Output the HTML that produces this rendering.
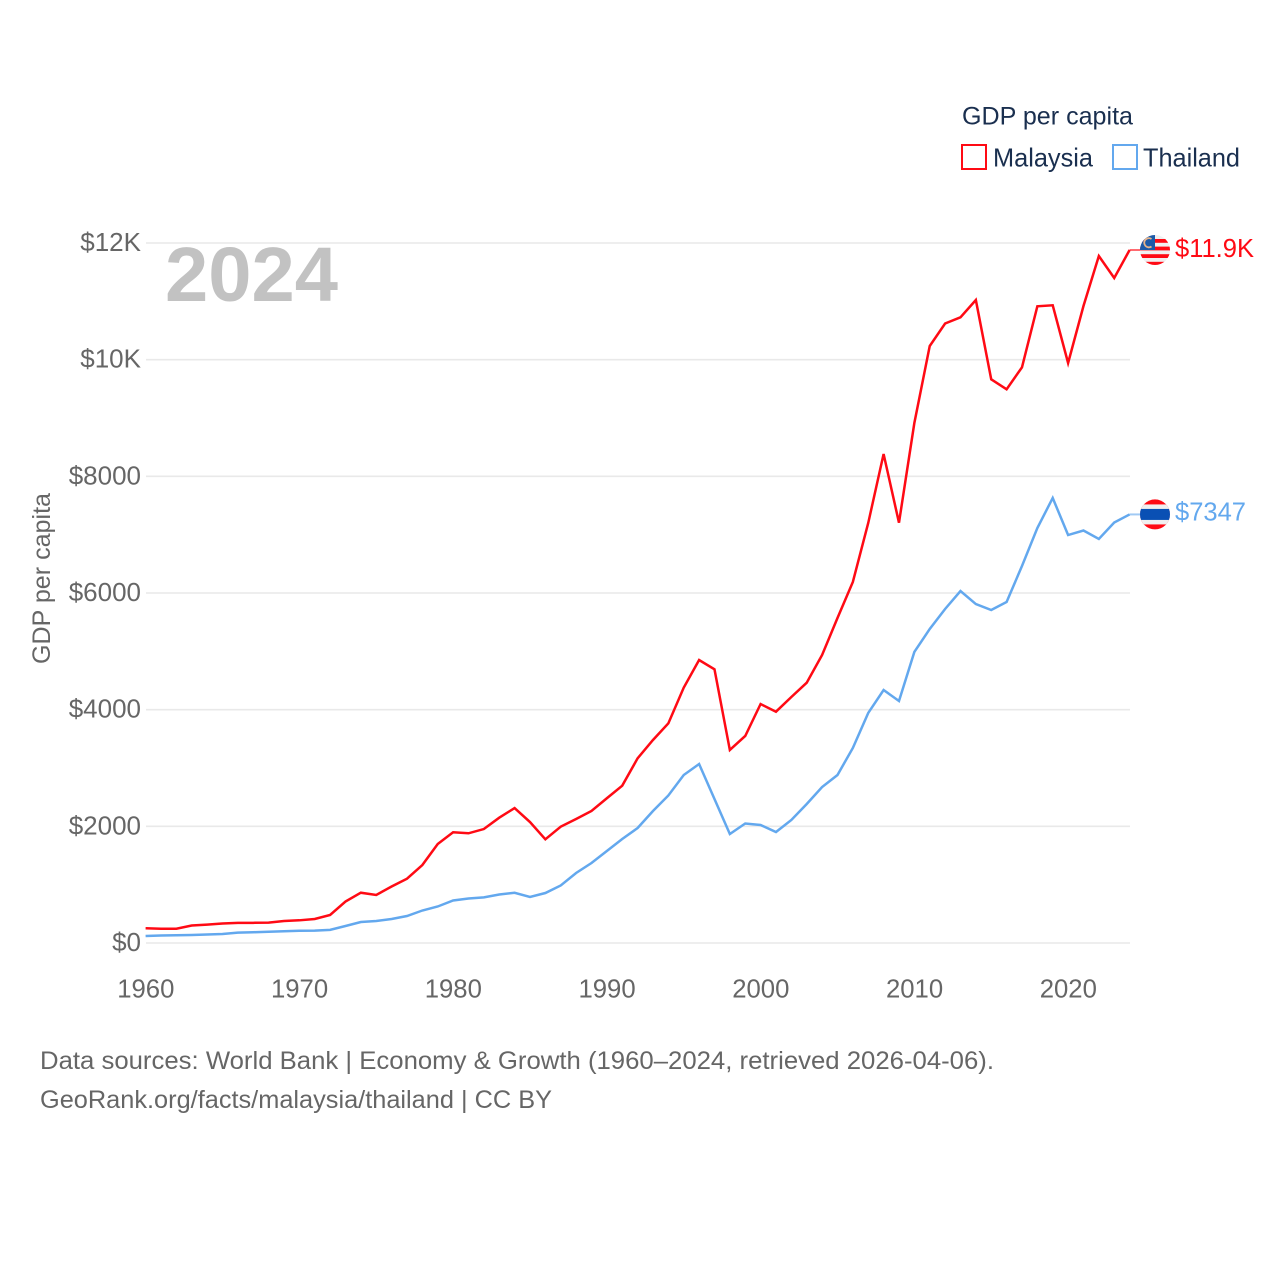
<!DOCTYPE html>
<html lang="en">
<head>
<meta charset="utf-8">
<title>GDP per capita: Malaysia and Thailand</title>
<style>
html,body{margin:0;padding:0;background:#fff;}
svg{display:block;}
text{font-family:"Liberation Sans",sans-serif;}
</style>
</head>
<body>
<svg id="chart" xmlns="http://www.w3.org/2000/svg" width="1280" height="1280" viewBox="0 0 1280 1280">
  <defs>
    <clipPath id="flag-clip-my"><circle id="clip-circle-my" r="15"/></clipPath>
    <clipPath id="flag-clip-th"><circle id="clip-circle-th" r="15"/></clipPath>
  </defs>
  <rect width="1280" height="1280" fill="#fff"/>
  <g id="grid"></g>
  <g id="y-ticks"></g>
  <g id="x-ticks"></g>
  <text x="165" y="301" font-size="77" font-weight="700" fill="#c2c2c2" textLength="173" lengthAdjust="spacingAndGlyphs">2024</text>
  <text transform="translate(50,578.5) rotate(-90)" text-anchor="middle" font-size="25" fill="#666" textLength="171" lengthAdjust="spacingAndGlyphs">GDP per capita</text>
  <g id="series"></g>
  <g id="ends"></g>

  <g>
    <text x="962" y="124.5" font-size="25" fill="#1a2f4f" textLength="171" lengthAdjust="spacingAndGlyphs">GDP per capita</text>
    <g>
      <rect x="962" y="145" width="24" height="24" fill="none" stroke="#ff0a14" stroke-width="2"/>
      <text x="993" y="166.5" font-size="26" fill="#1a2f4f" textLength="100" lengthAdjust="spacingAndGlyphs">Malaysia</text>
    </g>
    <g>
      <rect x="1113" y="145" width="24" height="24" fill="none" stroke="#63a8ee" stroke-width="2"/>
      <text x="1143" y="166.5" font-size="26" fill="#1a2f4f" textLength="97" lengthAdjust="spacingAndGlyphs">Thailand</text>
    </g>
  </g>

  <text x="40" y="1069" font-size="25" fill="#666" textLength="954" lengthAdjust="spacingAndGlyphs">Data sources: World Bank | Economy &amp; Growth (1960–2024, retrieved 2026-04-06).</text>
  <text x="40" y="1108" font-size="25" fill="#666" textLength="512" lengthAdjust="spacingAndGlyphs">GeoRank.org/facts/malaysia/thailand | CC BY</text>
</svg>
<script>
const firstYear = 1960;
const malaysia = [252,245,245,300,314,334,346,346,350,377,389,411,480,711,862,823,969,1102,1337,1697,1898,1881,1954,2148,2314,2074,1778,1994,2126,2263,2481,2697,3166,3480,3766,4377,4851,4692,3309,3549,4097,3965,4217,4462,4937,5571,6189,7200,8383,7205,8914,10234,10620,10726,11023,9663,9492,9869,10915,10932,9943,10920,11777,11400,11880];
const thailand = [120,129,132,137,146,154,177,185,192,202,209,213,226,291,360,377,411,463,557,626,729,763,783,831,861,789,857,986,1200,1371,1577,1783,1971,2263,2529,2880,3069,2469,1869,2049,2023,1903,2109,2383,2674,2880,3343,3943,4337,4149,4989,5383,5726,6034,5811,5709,5846,6463,7114,7629,6994,7071,6926,7209,7347];
const yTicks = [0,2000,4000,6000,8000,10000,12000];
const yTickLabels = ['$0','$2000','$4000','$6000','$8000','$10K','$12K'];
const xTicks = [1960,1970,1980,1990,2000,2010,2020];
const endLabels = ['$11.9K','$7347'];

const NS = 'http://www.w3.org/2000/svg';
const x = year => 145.6 + (year - 1960) * 15.375;
const y = value => 943 - value * 700 / 12000;
const RED = '#ff0a14', BLUE = '#63a8ee';

function mk(parent, tag, attrs, content) {
  const el = document.createElementNS(NS, tag);
  for (const k in attrs) el.setAttribute(k, attrs[k]);
  if (content !== undefined) el.textContent = content;
  parent.appendChild(el);
  return el;
}

const grid = document.getElementById('grid');
const yG = document.getElementById('y-ticks');
yTicks.forEach((v, i) => {
  const line = mk(grid, 'line', {x1: 146, x2: 1130, y1: y(v), y2: y(v), stroke: '#e9e9e9', 'stroke-width': 1.6});
  
  
  const t = mk(yG, 'text', {x: 141, y: y(v) + 8, 'text-anchor': 'end', 'font-size': 26, fill: '#666'}, yTickLabels[i]);
  
  
});

const xG = document.getElementById('x-ticks');
xTicks.forEach(year => {
  const t = mk(xG, 'text', {x: x(year) + 0.2, y: 997.5, 'text-anchor': 'middle', 'font-size': 25.7, fill: '#666'}, String(year));
  
  
});

function pathOf(values) {
  return values.map((v, i) => (i ? 'L' : 'M') + x(firstYear + i).toFixed(2) + ' ' + y(v).toFixed(2)).join('');
}
const seriesG = document.getElementById('series');
const lineMy = mk(seriesG, 'path', {d: pathOf(malaysia), fill: 'none', stroke: RED, 'stroke-width': 2.5, 'stroke-linejoin': 'miter'});


const lineTh = mk(seriesG, 'path', {d: pathOf(thailand), fill: 'none', stroke: BLUE, 'stroke-width': 2.5, 'stroke-linejoin': 'miter'});



const ends = document.getElementById('ends');
const lastYear = firstYear + malaysia.length - 1;
const cx = 1155;
const yMy = y(malaysia[malaysia.length - 1]);
const yTh = y(thailand[thailand.length - 1]);

const connMy = mk(ends, 'line', {x1: x(lastYear), x2: cx - 15, y1: yMy, y2: yMy, stroke: RED, 'stroke-width': 2, opacity: 0.6});


const connTh = mk(ends, 'line', {x1: x(lastYear), x2: cx - 15, y1: yTh, y2: yTh, stroke: BLUE, 'stroke-width': 2, opacity: 0.6});



/* Malaysia flag */
document.getElementById('clip-circle-my').setAttribute('cx', cx);
document.getElementById('clip-circle-my').setAttribute('cy', yMy);
const flagMy = mk(ends, 'g', {'clip-path': 'url(#flag-clip-my)'});


mk(flagMy, 'rect', {x: cx - 15, y: yMy - 15, width: 30, height: 30, fill: '#f0f0f0'});
for (let i = 0; i < 4; i++) {
  mk(flagMy, 'rect', {x: cx - 15, y: yMy - 11 + i * 7.6, width: 30, height: 3.8, fill: RED});
}
mk(flagMy, 'rect', {x: cx - 15, y: yMy - 15, width: 15, height: 15, fill: '#1c5aa8'});
mk(flagMy, 'path', {d: 'M ' + (cx - 3.5) + ' ' + (yMy - 11) + ' A 4.6 4.6 0 1 0 ' + (cx - 3.5) + ' ' + (yMy - 3.5), fill: 'none', stroke: '#e8b48a', 'stroke-width': 1.8});

/* Thailand flag */
document.getElementById('clip-circle-th').setAttribute('cx', cx);
document.getElementById('clip-circle-th').setAttribute('cy', yTh);
const flagTh = mk(ends, 'g', {'clip-path': 'url(#flag-clip-th)'});


mk(flagTh, 'rect', {x: cx - 15, y: yTh - 16, width: 30, height: 32, fill: RED});
mk(flagTh, 'rect', {x: cx - 15, y: yTh - 10, width: 30, height: 20, fill: '#f0f0f0'});
mk(flagTh, 'rect', {x: cx - 15, y: yTh - 5.5, width: 30, height: 11, fill: '#0a50b4'});

const labMy = mk(ends, 'text', {x: 1175, y: yMy + 7, 'font-size': 25.5, fill: RED, textLength: 79, lengthAdjust: 'spacingAndGlyphs'}, endLabels[0]);


const labTh = mk(ends, 'text', {x: 1175, y: yTh + 6, 'font-size': 25.5, fill: BLUE, textLength: 71, lengthAdjust: 'spacingAndGlyphs'}, endLabels[1]);


</script>
</body>
</html>
